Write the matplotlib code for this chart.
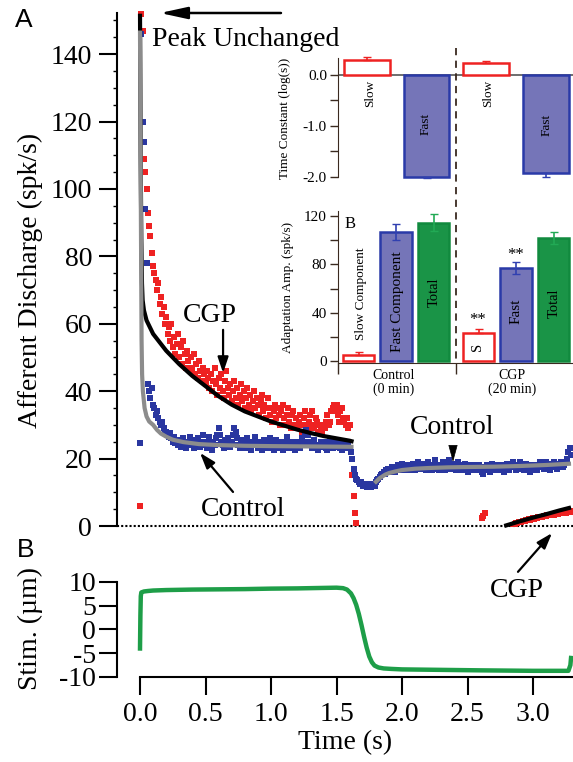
import numpy as np
import matplotlib
matplotlib.use('Agg')
import matplotlib.pyplot as plt
from matplotlib.lines import Line2D

plt.rcParams['font.family'] = ['Liberation Serif', 'DejaVu Serif']
plt.rcParams['axes.unicode_minus'] = False

W, H = 573, 762

# --- panel A data (spk/s) ---
t_early = np.round(np.arange(0, 1.655, 0.01), 2)   # 0.00 .. 1.65
t_late = np.round(np.arange(1.66, 3.295, 0.01), 2)  # 1.66 .. 3.29
t_cgp_end = np.round(np.arange(2.85, 3.295, 0.01), 2)

cgp_early = [
    6, 152, 147, 109, 105, 100, 93, 89, 86, 81,
    77, 75, 73, 70, 72, 66, 68, 63, 65, 60,
    62, 57, 59, 55, 60, 53, 56, 51, 54, 57,
    50, 53, 48, 55, 51, 47, 52, 49, 46, 50,
    47, 51, 45, 48, 44, 49, 46, 43, 47, 45,
    42, 46, 44, 41, 45, 40, 43, 47, 42, 39,
    44, 41, 45, 40, 38, 43, 46, 41, 39, 42,
    37, 40, 43, 38, 41, 36, 39, 42, 37, 40,
    35, 38, 41, 36, 39, 34, 37, 40, 35, 38,
    36, 33, 37, 39, 34, 36, 32, 35, 38, 33,
    35, 31, 34, 36, 32, 35, 33, 30, 34, 36,
    32, 30, 33, 35, 31, 29, 33, 34, 30, 32,
    29, 31, 33, 30, 28, 32, 34, 30, 29, 31,
    33, 34, 30, 29, 32, 31, 28, 30, 29, 28,
    30, 29, 31, 33, 30, 31, 34, 35, 36, 34,
    36, 33, 31, 34, 35, 32, 31, 30, 32, 29,
    30, 22, 15, 9, 4, 1]
cgp_mid_t = [2.61, 2.62, 2.63]
cgp_mid = [2.4, 3.0, 3.8]
cgp_end = [
    0.4, 0.6, 0.9, 0.8, 1.1, 1.3, 1.2, 1.5, 1.6, 1.5,
    1.8, 1.9, 2.0, 1.9, 2.2, 2.3, 2.2, 2.5, 2.4, 2.6,
    2.7, 2.8, 2.7, 3.0, 3.1, 2.9, 3.2, 3.3, 3.2, 3.4,
    3.5, 3.4, 3.6, 3.7, 3.6, 3.8, 3.9, 3.8, 4.0, 4.1,
    4.0, 4.2, 4.3, 4.2, 4.4]

ctrl_early = [
    24.6, 146, 120, 114, 94, 78, 42, 40, 38, 41,
    36, 35, 33, 34, 32, 31, 30, 31, 29, 28,
    28, 27, 26.5, 27.5, 26, 25, 26.5, 24.5, 25.5, 24,
    25, 23.5, 24.5, 26, 24, 23, 25, 24.5, 26.5, 25,
    24, 23, 25.5, 24, 26, 25, 23.5, 24.5, 27, 25,
    24, 23, 25, 26.5, 24, 22.5, 25, 24, 26, 27,
    29, 27, 25, 24, 23, 25.5, 24, 26, 25, 23.5,
    25, 27, 29, 28, 26, 24, 23, 24.5, 25.5, 24,
    23, 24.5, 26, 25, 23.5, 22.5, 24, 25, 26.5, 24,
    23, 25, 24, 22.5, 23.5, 25.5, 24, 23, 25, 26,
    24.5, 23, 22.5, 24, 25.5, 24, 23, 25, 24, 22.5,
    23.5, 25, 26.5, 24, 23, 24.5, 25, 23.5, 22.5, 24,
    25, 24, 23, 24.5, 26, 25, 27, 28.5, 27, 25,
    24, 23, 24.5, 25.5, 24, 23.5, 22.5, 24, 25, 23.5,
    24, 25, 23, 22.5, 24, 25.5, 24.5, 23, 24, 25,
    23.5, 24, 25, 23, 22.5, 24.5, 25, 24, 23, 24,
    23, 22, 20, 17, 15, 14]
ctrl_late = [
    13.5, 13, 12.5, 13, 12, 12.5, 12, 11.5, 12.5, 12,
    11.5, 12, 12.5, 12, 13, 13.5, 14, 14.5, 15, 15.5,
    16, 15.5, 16.5, 17, 16, 16.5, 17.5, 16.5, 17, 16,
    17, 18, 16.5, 17, 18.5, 17.5, 16.5, 17, 18, 17.5,
    16.5, 17.5, 18.5, 17, 16.5, 18, 19, 17.5, 17, 18,
    18.5, 17, 16.5, 17.5, 19, 18, 17, 16.5, 18, 19.5,
    18, 17, 16.5, 18, 17.5, 19, 18, 16.5, 17, 18.5,
    19.5, 18, 17, 18.5, 17.5, 16.5, 18, 19, 18, 17,
    16.5, 17.5, 18.5, 17, 16, 17.5, 18, 17, 16.5, 18,
    17.5, 16.5, 17, 18, 17.5, 16, 15.5, 16.5, 17.5, 18,
    17, 16, 17.5, 18.5, 17, 16.5, 18, 17.5, 16.5, 17,
    18, 17, 16, 17.5, 18.5, 17, 16.5, 17.5, 18, 19,
    17.5, 16.5, 17, 18, 19, 18, 17, 16.5, 17.5, 18.5,
    18, 17, 16, 16.5, 17.5, 18, 17, 16.5, 18, 19,
    18.5, 17.5, 17, 18, 19, 18.5, 17.5, 16.5, 17.5, 18.5,
    19, 18, 17, 17.5, 18.5, 19, 18, 17.5, 18, 19,
    20, 22, 23, 21]

# fitted curves
fit_cgp_t = [0.0, 0.005, 0.01, 0.015, 0.02, 0.03, 0.05, 0.1, 0.15, 0.2, 0.3, 0.4,
             0.5, 0.6, 0.7, 0.8, 0.9, 1.0, 1.1, 1.2, 1.3, 1.4, 1.5, 1.6, 1.63]
fit_cgp = [152, 110, 85, 72, 67, 64, 61, 57, 54.5, 52, 48, 44.5,
           41.5, 38.5, 36, 34, 32.5, 31, 29.8, 28.6, 27.6, 26.7, 26, 25.3, 25]
fit_cgp2_t = [2.78, 2.9, 3.0, 3.1, 3.2, 3.29]
fit_cgp2 = [0, 1.4, 2.5, 3.5, 4.6, 5.5]
fit_ctrl_t = [0.0, 0.007, 0.012, 0.016, 0.022, 0.035, 0.05, 0.07, 0.1, 0.13, 0.16,
              0.2, 0.25, 0.33, 0.45, 0.6, 0.8, 1.0, 1.3, 1.63]
fit_ctrl = [147, 90, 55, 45, 40, 35, 32.5, 31, 30, 28.5, 27.4,
            26.5, 25.6, 24.9, 24.3, 24.0, 23.8, 23.7, 23.6, 23.5]
fit_ctrl2_t = [1.79, 1.83, 1.87, 1.9, 1.95, 2.0, 2.1, 2.2, 2.35, 2.5, 2.7, 2.9, 3.1, 3.29]
fit_ctrl2 = [12.7, 14.2, 15.2, 15.7, 16.2, 16.6, 17.0, 17.2, 17.4, 17.5, 17.6, 17.8, 18.1, 18.5]

# --- panel B stimulus (um) ---
stim_t = [0.0, 0.003, 0.006, 0.01, 0.03, 0.06, 0.1, 0.2, 0.4, 0.6, 0.8, 1.0, 1.2, 1.4,
          1.5, 1.55, 1.58, 1.61, 1.63, 1.65, 1.67, 1.69, 1.71, 1.73, 1.75, 1.77, 1.79,
          1.82, 1.86, 1.92, 2.0, 2.3, 2.6, 3.0, 3.27, 3.285, 3.29]
stim = [-4, 3, 7, 7.8, 8.0, 8.1, 8.2, 8.3, 8.4, 8.45, 8.5, 8.6, 8.65, 8.75,
        8.8, 8.7, 8.4, 7.6, 6.6, 5.2, 3.3, 1.0, -1.5, -3.8, -5.7, -6.9, -7.6,
        -8.0, -8.2, -8.3, -8.4, -8.5, -8.6, -8.7, -8.7, -7.5, -6]

# --- insets ---
tau_slow = [0.29, 0.23]
tau_slow_err = [0.06, 0.05]
tau_fast = [-2.0, -1.93]
tau_fast_err = [0.02, 0.07]
amp_labels = ['Control\n(0 min)', 'CGP\n(20 min)']
amp_slow = [5.5, 23.4]
amp_slow_err = [2, 3]
amp_fast = [106.5, 76.9]
amp_fast_err = [6.5, 5]
amp_total = [114.3, 101.7]
amp_total_err = [7, 5]

RED = '#ee2222'
BLUE = '#2a37a0'
GREEN = '#1e9e48'
DARK = '#3a2a20'


def fx(px):
    return px / W


def fy(py):
    return 1 - py / H


fig = plt.figure(figsize=(W / 100, H / 100), dpi=100)

# ---------------- panel B (drawn first so panel A text can sit over it) ----------------
axb = fig.add_axes([fx(117), fy(677), fx(573) - fx(117), fy(579.6) - fy(677)])
axb.patch.set_alpha(0)
axb.set_xlim(-0.1756, 3.305)
axb.set_ylim(-10, 10.5)
for s in ['top', 'right']:
    axb.spines[s].set_visible(False)
axb.spines['left'].set_bounds(-10, 10)
axb.spines['bottom'].set_bounds(0, 3.305)
axb.spines['left'].set_linewidth(1.5)
axb.spines['bottom'].set_linewidth(1.5)
axb.set_yticks([-10, -5, 0, 5, 10])
axb.set_xticks([0, 0.5, 1.0, 1.5, 2.0, 2.5, 3.0])
axb.set_xticklabels(['0.0', '0.5', '1.0', '1.5', '2.0', '2.5', '3.0'])
axb.tick_params(axis='y', length=13, width=1.5, pad=2, labelsize=20)
axb.tick_params(axis='x', length=13, width=1.5, pad=5, labelsize=20)
axb.plot(stim_t, stim, color=GREEN, lw=3.2)
axb.set_xlabel('Time (s)', fontsize=20, labelpad=2)
fig.text(fx(30), fy(628), 'Stim. (µm)', fontsize=20, rotation=90, ha='center', va='center')
fig.text(fx(26), fy(550), 'B', fontsize=19, family='Liberation Sans', ha='center', va='center')

# ---------------- panel A ----------------
ax = fig.add_axes([fx(117), fy(526), fx(573) - fx(117), fy(13) - fy(526)])
ax.patch.set_alpha(0)
ax.set_xlim(-0.1756, 3.305)
ax.set_ylim(0, 152.2)
for s in ['top', 'right', 'bottom']:
    ax.spines[s].set_visible(False)
ax.spines['left'].set_linewidth(1.5)
ax.set_xticks([])
ax.set_yticks(range(0, 141, 20))
ax.set_yticks(range(0, 151, 5), minor=True)
ax.tick_params(axis='y', which='major', length=13, width=1.5, pad=5, labelsize=20)
ax.tick_params(axis='y', which='minor', length=3, width=1)
ax.axhline(0, color='k', ls=(0, (1, 1)), lw=1.5, clip_on=False)

ms = dict(marker='s', ls='none', ms=4, mew=0)
ax.plot(t_early, cgp_early, color=RED, clip_on=False, **ms)
ax.plot(cgp_mid_t, cgp_mid, color=RED, **ms)
ax.plot(t_cgp_end, cgp_end, color=RED, **ms)
ax.plot(t_early, ctrl_early, color=BLUE, **ms)
ax.plot(t_late, ctrl_late, color=BLUE, **ms)
ax.plot(fit_cgp_t, fit_cgp, color='black', lw=3, solid_capstyle='butt')
ax.plot(fit_cgp2_t, fit_cgp2, color='black', lw=3, solid_capstyle='butt', clip_on=False)
ax.plot(fit_ctrl_t, fit_ctrl, color='#8c8c8c', lw=3, solid_capstyle='butt')
ax.plot(fit_ctrl2_t, fit_ctrl2, color='#8c8c8c', lw=3, solid_capstyle='butt')


# annotations
def arrow(tail, head, hl, hw, lw=1.6):
    ax.annotate('', xy=head, xytext=tail, annotation_clip=False,
                arrowprops=dict(arrowstyle='-|>,head_length=%g,head_width=%g' % (hl, hw),
                                color='k', lw=lw, shrinkA=0, shrinkB=0, mutation_scale=10))


arrow((1.076, 152.2), (0.153, 152.2), 1.65, 0.36, lw=1.8)
ax.text(0.092, 144.2, 'Peak Unchanged', fontsize=20, ha='left', va='center')
ax.text(0.534, 62.6, 'CGP', fontsize=20, ha='center', va='center')
arrow((0.634, 58.2), (0.634, 45.4), 0.95, 0.32)
ax.text(0.786, 4.75, 'Control', fontsize=20, ha='center', va='center')
arrow((0.710, 10.1), (0.458, 21.7), 0.95, 0.32)
ax.text(2.382, 29.1, 'Control', fontsize=20, ha='center', va='center')
arrow((2.389, 23.6), (2.389, 19.0), 1.1, 0.3, lw=0.5)
ax.text(2.878, -19.0, 'CGP', fontsize=20, ha='center', va='center', clip_on=False)
arrow((2.885, -13.6), (3.145, -2.1), 0.95, 0.32)

fig.text(fx(24), fy(20), 'A', fontsize=19, family='Liberation Sans', ha='center', va='center')
fig.text(fx(30), fy(280), 'Afferent Discharge (spk/s)', fontsize=20, rotation=90,
         ha='center', va='center')

# ---------------- inset: time constants ----------------
ax1 = fig.add_axes([fx(338), fy(182), fx(573) - fx(338), fy(52) - fy(182)])
ax1.patch.set_alpha(0)
ax1.set_xlim(-0.487, 3.46)
ax1.set_ylim(-2.1, 0.45)
for s in ['top', 'right', 'bottom']:
    ax1.spines[s].set_visible(False)
ax1.spines['left'].set_bounds(-2.0, 0.33)
ax1.spines['left'].set_color(DARK)
ax1.set_xticks([])
ax1.set_yticks([0, -1, -2])
ax1.set_yticklabels(['0.0', '-1.0', '-2.0'])
ax1.set_yticks([-0.5, -1.5], minor=True)
ax1.tick_params(axis='y', which='both', length=6, width=1, pad=2, labelsize=11, color=DARK)
ax1.axhline(0, color='#555555', lw=1.2, zorder=0)
ax1.bar([0, 2], tau_slow, width=0.77, color='white', edgecolor=RED, lw=1.8,
        yerr=[[0, 0], tau_slow_err], error_kw=dict(ecolor=RED, capsize=3, elinewidth=1.2))
ax1.bar([1, 3], tau_fast, width=0.77, color='#7575b8', edgecolor='#2a3aa8', lw=1.8,
        yerr=[tau_fast_err, [0, 0]], error_kw=dict(ecolor='#3040b0', capsize=3, elinewidth=1.2))
fig.text(fx(285), fy(118), 'Time Constant (log(s))', fontsize=9.5, rotation=90,
         ha='center', va='center')
for px, py, s in [(370, 93, 'Slow'), (426, 124, 'Fast'), (488, 93, 'Slow'), (547, 125, 'Fast')]:
    fig.text(fx(px), fy(py), s, fontsize=9.5, rotation=90, ha='center', va='center')

# ---------------- inset: adaptation amplitude ----------------
ax2 = fig.add_axes([fx(338), fy(363), fx(573) - fx(338), fy(211) - fy(363)])
ax2.patch.set_alpha(0)
ax2.set_xlim(-0.547, 5.72)
ax2.set_ylim(-1.5, 124)
for s in ['top', 'right']:
    ax2.spines[s].set_visible(False)
ax2.spines['left'].set_color(DARK)
ax2.spines['bottom'].set_color(DARK)
ax2.set_yticks([0, 40, 80, 120])
ax2.set_yticks([20, 60, 100], minor=True)
ax2.set_xticks([-0.547, 2.6])
ax2.set_xticklabels(['', ''])
ax2.tick_params(axis='y', which='both', length=6, width=1, pad=2, labelsize=11, color=DARK)
ax2.tick_params(axis='x', length=8, width=1, color=DARK)
ax2.bar([0, 3.2], amp_slow, width=0.83, color='white', edgecolor=RED, lw=1.8,
        yerr=[[0, 0], amp_slow_err], error_kw=dict(ecolor=RED, capsize=3, elinewidth=1.2))
ax2.bar([1, 4.2], amp_fast, width=0.83, color='#7575b8', edgecolor='#2a3aa8', lw=1.8,
        yerr=amp_fast_err, error_kw=dict(ecolor='#3040b0', capsize=3, elinewidth=1.2))
ax2.bar([2, 5.2], amp_total, width=0.83, color='#1a9447', edgecolor='#118a3e', lw=1.8,
        yerr=amp_total_err, error_kw=dict(ecolor='#22aa55', capsize=3, elinewidth=1.2))
fig.text(fx(288), fy(287), 'Adaptation Amp. (spk/s)', fontsize=9.5, rotation=90,
         ha='center', va='center')
fig.text(fx(350), fy(224), 'B', fontsize=12, ha='center', va='center')
fig.text(fx(394), fy(383), amp_labels[0], fontsize=10, ha='center', va='center', linespacing=1.05)
fig.text(fx(512), fy(383), amp_labels[1], fontsize=10, ha='center', va='center', linespacing=1.05)
for px, py, s, fs in [(361, 294, 'Slow Component', 9.5), (397, 302, 'Fast Component', 11),
                      (434, 292, 'Total', 10.5), (478, 347, 'S', 10.5),
                      (516, 311, 'Fast', 11), (554, 303, 'Total', 10.5)]:
    fig.text(fx(px), fy(py), s, fontsize=fs, rotation=90, ha='center', va='center')
fig.text(fx(478), fy(320), '**', fontsize=12, ha='center', va='center')
fig.text(fx(516), fy(255), '**', fontsize=12, ha='center', va='center')

# dashed divider between control and CGP
fig.add_artist(Line2D([fx(456), fx(456)], [fy(48), fy(362)], color=DARK, lw=1.3,
                      ls=(0, (4, 3))))

fig.savefig('out.png', dpi=100)
